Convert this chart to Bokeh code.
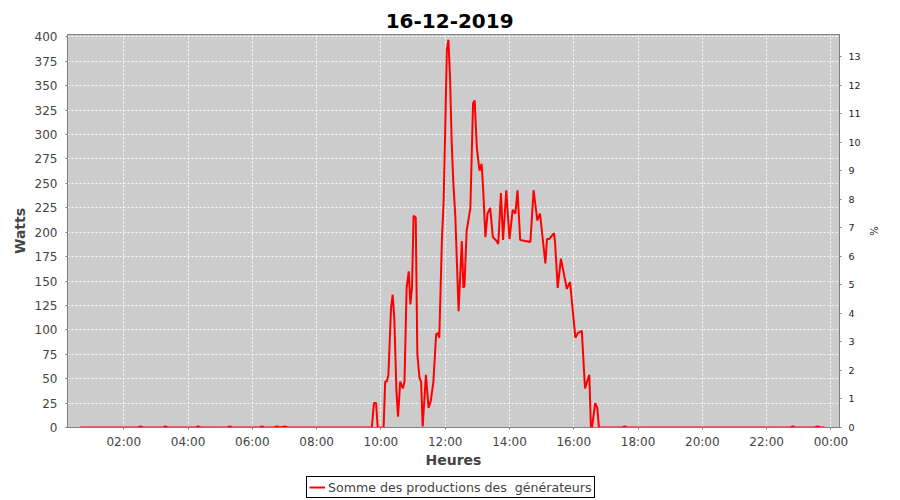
from datetime import datetime, timedelta
from bokeh.plotting import figure
from bokeh.layouts import column
from bokeh.core.properties import value
from bokeh.models import (Range1d, LinearAxis, SingleIntervalTicker, FixedTicker,
                          DatetimeTickFormatter, Legend, LegendItem, ColumnDataSource)
from bokeh.embed import file_html
from bokeh.resources import INLINE

# ---- data ----
chart_title = "16-12-2019"
series_name = "Somme des productions des  générateurs"
times = ["00:39", "02:26", "02:31", "02:36", "03:13", "03:18", "03:23", "04:14", "04:19", "04:24",
         "05:13", "05:18", "05:23", "06:13", "06:18", "06:23", "06:41", "06:46", "06:51", "07:01",
         "07:06", "09:43", "09:47", "09:51", "09:54", "10:05", "10:08", "10:11", "10:14", "10:19",
         "10:22", "10:25", "10:29", "10:32", "10:36", "10:41", "10:44", "10:48", "10:52", "10:55",
         "10:58", "11:01", "11:05", "11:08", "11:12", "11:15", "11:18", "11:24", "11:29", "11:33",
         "11:38", "11:43", "11:46", "11:49", "11:54", "11:57", "12:00", "12:03", "12:06", "12:09",
         "12:12", "12:15", "12:19", "12:22", "12:25", "12:31", "12:34", "12:36", "12:40", "12:47",
         "12:52", "12:55", "12:59", "13:04", "13:08", "13:11", "13:15", "13:19", "13:24", "13:29",
         "13:36", "13:39", "13:44", "13:48", "13:54", "14:00", "14:06", "14:11", "14:15", "14:20",
         "14:29", "14:39", "14:45", "14:52", "14:57", "15:07", "15:10", "15:14", "15:23", "15:25",
         "15:30", "15:36", "15:47", "15:53", "16:03", "16:08", "16:15", "16:21", "16:29", "16:32",
         "16:34", "16:40", "16:44", "16:47", "17:30", "17:35", "17:40", "18:00", "22:44", "22:49",
         "22:54", "23:30", "23:35", "23:40", "23:48"]
watts = [0, 0, 1, 0, 0, 1, 0, 0, 1, 0,
         0, 1, 0, 0, 1, 0, 0, 1, 0, 1,
         0, 0, 25, 25, 0, 0, 47, 47, 54, 123,
         136, 112, 37, 11, 47, 40, 47, 143, 160, 126,
         143, 217, 215, 75, 51, 47, 1, 54, 20, 27,
         47, 95, 97, 92, 195, 230, 304, 387, 397, 359,
         294, 253, 215, 167, 119, 191, 143, 145, 201, 225,
         332, 335, 287, 263, 270, 243, 195, 219, 225, 195,
         191, 188, 240, 192, 243, 193, 223, 219, 243, 192,
         191, 190, 243, 212, 219, 168, 193, 193, 199, 190,
         143, 173, 142, 149, 92, 97, 99, 40, 54, 0,
         0, 25, 20, 0, 0, 1, 0, 0, 0, 1,
         0, 0, 1, 0, 0]
x_ticks = ["02:00", "04:00", "06:00", "08:00", "10:00", "12:00", "14:00", "16:00", "18:00",
           "20:00", "22:00", "00:00"]
watts_range = (0, 402.5)
pct_range = (0, 13.77)

day = datetime(2019, 12, 16)

def to_dt(s, next_day=False):
    h, m = map(int, s.split(":"))
    d = day + timedelta(hours=h, minutes=m)
    if next_day:
        d += timedelta(days=1)
    return d

xs = [to_dt(t) for t in times]
tick_dt = [to_dt(t, next_day=(t == "00:00")) for t in x_ticks]
epoch = datetime(1970, 1, 1)
tick_ms = [(d - epoch).total_seconds() * 1000.0 for d in tick_dt]

FONT = "DejaVu Sans"
LINE_COLOR = "#ff0000"

# ---- title strip ----
tt = figure(width=900, height=28, x_range=Range1d(0, 1), y_range=Range1d(0, 1),
            output_backend="svg", toolbar_location=None,
            x_axis_location=None, y_axis_location=None, min_border=0)
tt.outline_line_color = None
tt.grid.visible = False
tt.background_fill_color = "white"
tt.border_fill_color = "white"
tt.text(x=[0.495], y=[0.28], text=[chart_title], text_font=value(FONT),
        text_font_size="20px", text_font_style="bold", text_color="#000000",
        text_align="center", text_baseline="alphabetic")

# ---- main chart ----
p = figure(width=900, height=448, x_axis_type="datetime",
           x_range=Range1d(day + timedelta(minutes=15), day + timedelta(hours=24, minutes=16)),
           y_range=Range1d(*watts_range),
           output_backend="svg", toolbar_location=None,
           min_border_left=67, min_border_right=61, min_border_top=6, min_border_bottom=49)
p.title.text = ""
p.title.standoff = 0

p.background_fill_color = "#cccccc"
p.border_fill_color = "white"
p.outline_line_color = "#808080"
p.outline_line_width = 1

src = ColumnDataSource(dict(x=xs, y=watts))
ln = p.line("x", "y", source=src, line_color=LINE_COLOR, line_width=2)

# x axis
xa = p.xaxis[0]
xa.ticker = FixedTicker(ticks=tick_ms)
xa.formatter = DatetimeTickFormatter(hours="%H:%M", days="%H:%M", hourmin="%H:%M",
                                     minutes="%H:%M", months="%H:%M", years="%H:%M")
xa.axis_label = "Heures"

# left axis
ya = p.yaxis[0]
ya.ticker = SingleIntervalTicker(interval=25)
ya.axis_label = "Watts"

# right axis
p.extra_y_ranges = {"pct": Range1d(*pct_range)}
ra = LinearAxis(y_range_name="pct", axis_label="%", ticker=SingleIntervalTicker(interval=1))
p.add_layout(ra, "right")

for ax in (xa, ya, ra):
    ax.axis_line_color = "#808080"
    ax.major_tick_line_color = "#808080"
    ax.major_tick_out = 2
    ax.major_tick_in = 0
    ax.minor_tick_line_color = None
    ax.major_label_text_font = FONT
    ax.major_label_text_font_size = "12px"
    ax.major_label_text_color = "#444444"
    ax.axis_label_text_font = FONT
    ax.axis_label_text_font_size = "14px"
    ax.axis_label_text_font_style = "bold"
    ax.axis_label_text_color = "#444444"

xa.major_label_standoff = 5
xa.axis_label_standoff = 0
ya.major_label_standoff = 6
ya.axis_label_standoff = 4
ra.major_label_text_font_size = "9.5px"
ra.major_label_text_color = "#222222"
ra.major_label_standoff = 5
ra.axis_label_text_font_style = "normal"
ra.axis_label_text_font_size = "10px"
ra.axis_label_text_color = "#222222"
ra.axis_label_standoff = 4

p.xgrid.ticker = xa.ticker
p.ygrid.ticker = ya.ticker
for g in (p.xgrid[0], p.ygrid[0]):
    g.grid_line_color = "white"
    g.grid_line_dash = "2 2"
    g.grid_line_width = 1
    g.grid_line_alpha = 0.9

# ---- legend strip below the chart ----
lg = figure(width=900, height=24, x_range=Range1d(0, 1), y_range=Range1d(0, 1),
            output_backend="svg", toolbar_location=None,
            x_axis_location=None, y_axis_location=None, min_border=0)
lg.outline_line_color = None
lg.grid.visible = False
lg.background_fill_color = "white"
lg.border_fill_color = "white"
# same series drawn in the strip (falls outside its ranges); used for the legend key
proxy = lg.line("x", "y", source=src, line_color=LINE_COLOR, line_width=2)

legend = Legend(items=[LegendItem(label=series_name, renderers=[proxy])],
                location=(239, 2), orientation="horizontal")
legend.border_line_color = "black"
legend.border_line_width = 1
legend.border_line_alpha = 1
legend.background_fill_color = "white"
legend.background_fill_alpha = 1
legend.label_text_font = FONT
legend.label_text_font_size = "12.6px"
legend.label_text_color = "#444444"
legend.glyph_width = 16
legend.glyph_height = 16
legend.label_height = 16
legend.label_standoff = 3
legend.padding = 2
legend.margin = 0
legend.spacing = 0
lg.add_layout(legend, "center")

layout = column(tt, p, lg, spacing=0)
open("out.html", "w").write(file_html(layout, INLINE))
